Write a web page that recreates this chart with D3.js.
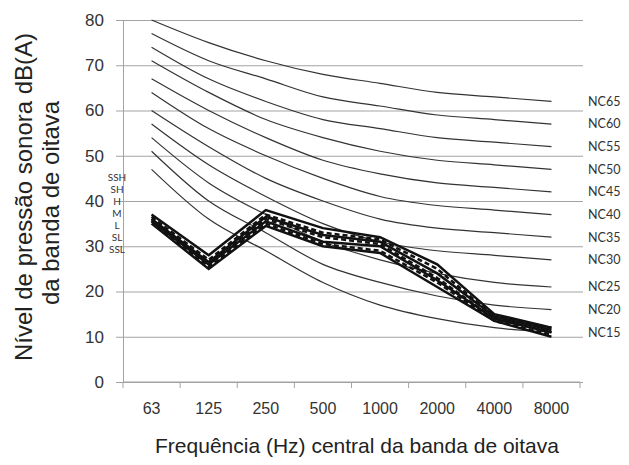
<!DOCTYPE html>
<html>
<head>
<meta charset="utf-8">
<script src="https://cdn.jsdelivr.net/npm/d3@7"></script>
<style>
  body { margin: 0; background: #fff; }
  svg { display: block; }
  .tick text { font-family: "Liberation Sans", Arial, sans-serif; fill: #333; }
  .axis-label { font-family: "Liberation Sans", Arial, sans-serif; fill: #222; }
  .nc-label, .series-label { font-family: Lato, "Open Sans", sans-serif; fill: #333; }
</style>
</head>
<body>
<svg width="629" height="465"></svg>
<script>
// octave band centre frequencies (Hz)
const frequencies = ['63', '125', '250', '500', '1000', '2000', '4000', '8000'];

// NC reference curves
const ncNames = ['NC65', 'NC60', 'NC55', 'NC50', 'NC45', 'NC40', 'NC35', 'NC30', 'NC25', 'NC20', 'NC15'];
const ncValues = [
  [80, 75, 71, 68, 66, 64, 63, 62],
  [77, 71, 67, 63, 61, 59, 58, 57],
  [74, 67, 62, 58, 56, 54, 53, 52],
  [71, 64, 58, 54, 51, 49, 48, 47],
  [67, 60, 54, 49, 46, 44, 43, 42],
  [64, 56, 50, 45, 41, 39, 38, 37],
  [60, 52, 45, 40, 36, 34, 33, 32],
  [57, 48, 41, 35, 31, 29, 28, 27],
  [54, 44, 37, 31, 27, 24, 22, 21],
  [51, 40, 33, 26, 22, 19, 17, 16],
  [47, 36, 29, 22, 17, 14, 12, 11]
];

// measured spectra
const seriesNames = ['SSH', 'SH', 'H', 'M', 'L', 'SL', 'SSL'];
const seriesValues = [
  [37, 28, 38, 34, 32, 26, 15, 12],
  [36.5, 27, 37, 33, 31.5, 25, 14.5, 12],
  [36, 26.5, 36.5, 32.5, 31, 24, 14.5, 11.5],
  [36, 26, 36, 32, 30.5, 23, 14, 11],
  [35.5, 26, 35.5, 31, 30, 22.5, 14, 11],
  [35.5, 25.5, 35, 30.5, 29, 22, 13.5, 10.5],
  [35, 25, 34.5, 30, 28.5, 21, 13.5, 10]
];

const yTicks = [0, 10, 20, 30, 40, 50, 60, 70, 80];

const svg = d3.select('svg');

const plotLeft = 123;
const plotRight = 580;
const plotTop = 20;
const plotBottom = 382;
const gridRight = 583;

const xScale = d3.scaleBand()
  .domain(frequencies)
  .range([plotLeft, plotRight]);

const yScale = d3.scaleLinear()
  .domain([0, 80])
  .range([plotBottom, plotTop]);

const xMid = d => xScale(d) + xScale.bandwidth() / 2;

// gridlines
const gridG = svg.append('g')
  .attr('transform', `translate(${plotLeft},0)`)
  .call(d3.axisLeft(yScale).tickValues(yTicks).tickSize(-(gridRight - plotLeft)).tickFormat(''));
gridG.select('.domain').remove();
gridG.selectAll('line').attr('stroke', '#a3a3a3');

// y axis with outside ticks
const yAxisG = svg.append('g')
  .attr('transform', `translate(${plotLeft},0)`)
  .call(d3.axisLeft(yScale).tickValues(yTicks).tickSize(7).tickPadding(12));
yAxisG.select('.domain').attr('stroke', '#a3a3a3');
yAxisG.selectAll('line').attr('stroke', '#a3a3a3');
yAxisG.selectAll('text').attr('font-size', 17);

// x axis: labels at band centres, ticks at band edges
const xAxisG = svg.append('g')
  .attr('transform', `translate(0,${plotBottom})`)
  .call(d3.axisBottom(xScale).tickSize(0).tickPadding(21));
xAxisG.select('.domain').remove();
xAxisG.selectAll('text').attr('font-size', 16);

svg.append('line')
  .attr('x1', plotLeft).attr('x2', plotRight)
  .attr('y1', plotBottom).attr('y2', plotBottom)
  .attr('stroke', '#a3a3a3');

svg.append('g').selectAll('line')
  .data(frequencies.concat(['end']))
  .join('line')
    .attr('x1', d => d === 'end' ? plotRight : xScale(d))
    .attr('x2', d => d === 'end' ? plotRight : xScale(d))
    .attr('y1', plotBottom)
    .attr('y2', plotBottom + 6)
    .attr('stroke', '#a3a3a3');

// NC curves
const ncLine = d3.line()
  .x((d, i) => xMid(frequencies[i]))
  .y(d => yScale(d))
  .curve(d3.curveCardinal.tension(0));

svg.append('g').selectAll('path')
  .data(ncValues)
  .join('path')
    .attr('d', ncLine)
    .attr('fill', 'none')
    .attr('stroke', '#333')
    .attr('stroke-width', 1.2);

svg.append('g').selectAll('text')
  .data(ncNames)
  .join('text')
    .attr('class', 'nc-label')
    .attr('x', 588)
    .attr('y', (d, i) => yScale(ncValues[i][ncValues[i].length - 1]))
    .attr('dy', '0.35em')
    .attr('font-size', 12.5)
    .text(d => d);

// measured spectra
const seriesLine = d3.line()
  .x((d, i) => xMid(frequencies[i]))
  .y(d => yScale(d));

svg.append('g').selectAll('path')
  .data(seriesValues)
  .join('path')
    .attr('d', seriesLine)
    .attr('fill', 'none')
    .attr('stroke', '#111')
    .attr('stroke-width', 2.5)
    .attr('stroke-linejoin', 'miter')
    .attr('stroke-dasharray', (d, i) => i % 2 === 1 ? '5,3' : null);

svg.append('g').selectAll('text')
  .data(seriesNames)
  .join('text')
    .attr('class', 'series-label')
    .attr('x', 117)
    .attr('y', (d, i) => 177 + i * 12)
    .attr('dy', '0.35em')
    .attr('text-anchor', 'middle')
    .attr('font-size', 10)
    .text(d => d);

// axis titles
const yTitle = svg.append('text')
  .attr('class', 'axis-label')
  .attr('transform', 'rotate(-90)')
  .attr('text-anchor', 'middle')
  .attr('font-size', 24);
yTitle.append('tspan').attr('x', -197).attr('y', 32).text('Nível de pressão sonora dB(A)');
yTitle.append('tspan').attr('x', -203).attr('y', 59).text('da banda de oitava');

svg.append('text')
  .attr('class', 'axis-label')
  .attr('x', 357)
  .attr('y', 453)
  .attr('text-anchor', 'middle')
  .attr('font-size', 21)
  .text('Frequência (Hz) central da banda de oitava');
</script>
</body>
</html>
